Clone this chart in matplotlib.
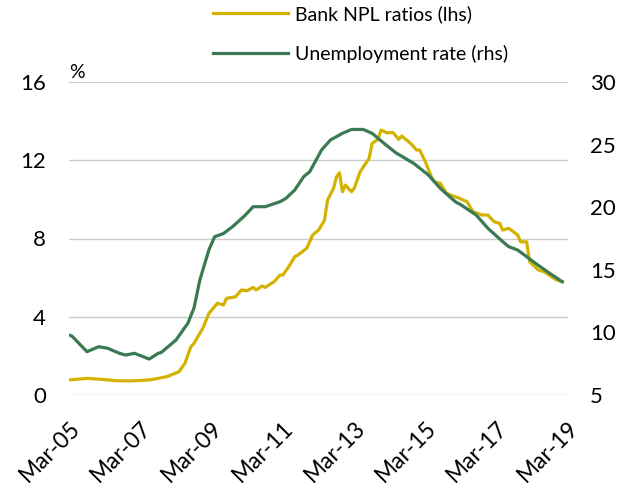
import matplotlib
matplotlib.use("Agg")
import matplotlib.pyplot as plt
import matplotlib.transforms as mtransforms
import pandas as pd
from matplotlib.lines import Line2D

plt.rcParams['font.family'] = ['Lato', 'DejaVu Sans']

npl_dates = ["2005-03", "2005-09", "2006-02", "2006-07", "2006-12", "2007-06", "2007-09", "2007-12",
             "2008-04", "2008-06", "2008-08", "2008-09", "2008-12", "2009-02", "2009-05", "2009-07",
             "2009-08", "2009-11", "2010-01", "2010-03", "2010-05", "2010-06", "2010-08", "2010-09",
             "2010-12", "2011-02", "2011-03", "2011-05", "2011-07", "2011-08", "2011-11", "2012-01",
             "2012-03", "2012-05", "2012-06", "2012-08", "2012-09", "2012-10", "2012-11", "2012-12",
             "2013-02", "2013-03", "2013-05", "2013-08", "2013-09", "2013-11", "2013-12", "2014-02",
             "2014-04", "2014-06", "2014-07", "2014-10", "2014-12", "2015-01", "2015-03", "2015-05",
             "2015-06", "2015-08", "2015-10", "2016-01", "2016-02", "2016-05", "2016-07", "2016-10",
             "2016-12", "2017-02", "2017-04", "2017-05", "2017-07", "2017-10", "2017-11", "2018-01",
             "2018-02", "2018-05", "2018-07", "2018-11", "2019-01"]
npl_values = [0.77, 0.85, 0.80, 0.73, 0.72, 0.77, 0.85, 0.94,
              1.19, 1.62, 2.47, 2.64, 3.41, 4.17, 4.69, 4.60,
              4.94, 5.02, 5.37, 5.33, 5.50, 5.37, 5.57, 5.50,
              5.79, 6.13, 6.13, 6.56, 7.07, 7.15, 7.50, 8.18,
              8.43, 8.94, 9.96, 10.56, 11.15, 11.36, 10.39, 10.73,
              10.39, 10.56, 11.41, 12.10, 12.86, 13.07, 13.54, 13.40,
              13.42, 13.07, 13.24, 12.86, 12.52, 12.52, 11.92, 11.15,
              10.90, 10.82, 10.31, 10.13, 10.08, 9.88, 9.37, 9.20,
              9.20, 8.86, 8.77, 8.43, 8.52, 8.18, 7.83, 7.83,
              6.81, 6.39, 6.30, 5.88, 5.79]

unemp_dates = ["2005-03", "2005-04", "2005-09", "2006-01", "2006-04", "2006-08", "2006-10", "2007-01",
               "2007-06", "2007-09", "2007-10", "2008-03", "2008-07", "2008-09", "2008-11", "2009-02",
               "2009-04", "2009-07", "2009-10", "2010-02", "2010-05", "2010-09", "2011-02", "2011-04",
               "2011-07", "2011-10", "2011-12", "2012-04", "2012-07", "2012-11", "2013-02", "2013-06",
               "2013-09", "2014-01", "2014-05", "2014-11", "2015-04", "2015-08", "2016-01", "2016-03",
               "2016-08", "2016-12", "2017-05", "2017-07", "2017-10", "2018-01", "2018-04", "2018-08",
               "2019-01"]
unemp_values = [9.79, 9.70, 8.46, 8.86, 8.73, 8.33, 8.19, 8.33,
                7.87, 8.33, 8.39, 9.39, 10.73, 11.93, 14.19, 16.58,
                17.64, 17.90, 18.44, 19.30, 20.04, 20.04, 20.44, 20.70,
                21.37, 22.44, 22.83, 24.57, 25.37, 25.90, 26.21, 26.21,
                25.90, 25.10, 24.35, 23.50, 22.57, 21.50, 20.44, 20.18,
                19.38, 18.31, 17.25, 16.85, 16.58, 16.05, 15.52, 14.85,
                14.05]

left_ticks = [0, 4, 8, 12, 16]
right_ticks = [5, 10, 15, 20, 25, 30]
x_tick_dates = ["2005-03", "2007-03", "2009-03", "2011-03", "2013-03", "2015-03", "2017-03", "2019-03"]
x_tick_labels = ["Mar-05", "Mar-07", "Mar-09", "Mar-11", "Mar-13", "Mar-15", "Mar-17", "Mar-19"]

yellow = "#D4B200"
green = "#3A7A52"

fig = plt.figure(figsize=(6.34, 4.87), dpi=100)
ax = fig.add_axes([69/634, 1-395/487, (568-69)/634, (395-82)/487])
ax2 = ax.twinx()

ax.plot(pd.to_datetime(npl_dates), npl_values, color=yellow, lw=2.3, solid_joinstyle='round')
ax2.plot(pd.to_datetime(unemp_dates), unemp_values, color=green, lw=2.3, solid_joinstyle='round')

ax.set_xlim(pd.Timestamp("2005-03-01"), pd.Timestamp("2019-03-01"))
ax.set_ylim(0, 16)
ax2.set_ylim(5, 30)
ax.set_yticks(left_ticks)
ax2.set_yticks(right_ticks)
ax.set_xticks(pd.to_datetime(x_tick_dates))
ax.set_xticklabels(x_tick_labels, rotation=45, ha='right', va='top', rotation_mode='anchor')
shift = mtransforms.ScaledTranslation(-10/100, 0, fig.dpi_scale_trans)
for lab in ax.get_xticklabels():
    lab.set_transform(lab.get_transform() + shift)

for a in (ax, ax2):
    for s in a.spines.values():
        s.set_visible(False)
ax.grid(axis='y', color='#cccccc', lw=1.0)
ax.set_axisbelow(True)
ax.tick_params(axis='y', length=0, labelsize=16, pad=16.5)
ax.tick_params(axis='x', length=0, labelsize=16.5, pad=16)
ax2.tick_params(axis='y', length=0, labelsize=16, pad=16)

fig.text(69/634, 1-78/487, "%", fontsize=14, ha='left', va='baseline')

handles = [Line2D([], [], color=yellow, lw=2.3), Line2D([], [], color=green, lw=2.3)]
fig.legend(handles, ["Bank NPL ratios (lhs)", "Unemployment rate (rhs)"],
           loc='upper left', bbox_to_anchor=(213/634, 1 - 5/487), frameon=False,
           borderpad=0, borderaxespad=0,
           fontsize=14, handlelength=3.85, handletextpad=0.36, labelspacing=1.12)

fig.savefig("out.png", dpi=100)
